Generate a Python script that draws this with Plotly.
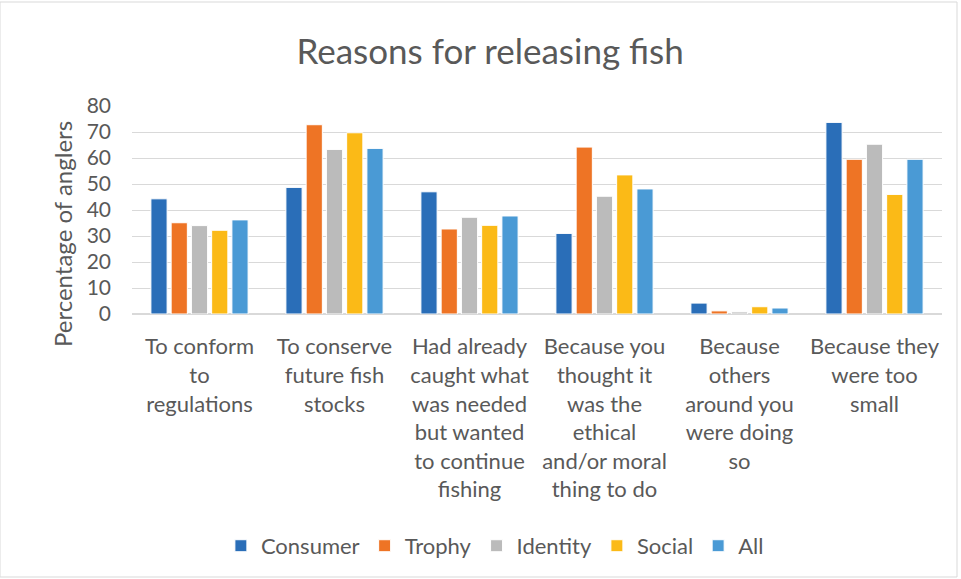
import plotly.graph_objects as go

categories = [
    "To conform<br>to<br>regulations",
    "To conserve<br>future fish<br>stocks",
    "Had already<br>caught what<br>was needed<br>but wanted<br>to continue<br>fishing",
    "Because you<br>thought it<br>was the<br>ethical<br>and/or moral<br>thing to do",
    "Because<br>others<br>around you<br>were doing<br>so",
    "Because they<br>were too<br>small",
]
consumer = [44.3, 48.7, 47.0, 31.0, 4.2, 73.7]
trophy = [35.1, 72.8, 32.7, 64.2, 1.2, 59.5]
identity = [34.0, 63.3, 37.2, 45.3, 0.8, 65.3]
social = [32.2, 69.7, 34.1, 53.5, 2.8, 46.0]
all_ = [36.2, 63.7, 37.7, 48.1, 2.3, 59.5]

series = [
    ("Consumer", consumer, "#2A6EB8"),
    ("Trophy", trophy, "#EE7425"),
    ("Identity", identity, "#BBBBBB"),
    ("Social", social, "#FBBA17"),
    ("All", all_, "#4A9AD5"),
]

FONT = "Lato, 'Open Sans', sans-serif"
GRAY = "#595959"

fig = go.Figure()
for name, vals, col in series:
    fig.add_trace(go.Bar(
        name=name, x=categories, y=vals,
        marker=dict(color=col, line=dict(color="white", width=1)),
    ))

fig.update_layout(
    width=961, height=579,
    paper_bgcolor="white", plot_bgcolor="white",
    margin=dict(l=132, r=19, t=106, b=265),
    barmode="group", bargap=0.25, bargroupgap=0.2,
    font=dict(family=FONT, color=GRAY),
    title=dict(text="Reasons for releasing fish", x=0.51, xanchor="center",
               y=1 - 52 / 579, yref="container", yanchor="middle",
               font=dict(size=35, color=GRAY, family=FONT)),
    legend=dict(orientation="h", x=0.448, xanchor="center", y=-1.115, yanchor="middle",
                font=dict(size=22, color=GRAY), traceorder="normal",
                itemwidth=30),
    annotations=[dict(text="Percentage of anglers", xref="paper", yref="paper",
                      x=-70/810, y=(314 - 234) / 208, xanchor="center", yanchor="middle",
                      textangle=-90, showarrow=False,
                      font=dict(size=24, color=GRAY, family=FONT))],
    shapes=[dict(type="rect", xref="paper", yref="paper",
                 x0=-132/810, x1=1 + 15/810, y0=-263/208, y1=1 + 104/208,
                 line=dict(color="#D9D9D9", width=1))],
)
fig.update_yaxes(range=[0, 80], dtick=10, showgrid=True, gridcolor="#D9D9D9", gridwidth=1,
                 zeroline=True, zerolinecolor="#D9D9D9", ticks="", showline=False,
                 tickfont=dict(size=21, color=GRAY), ticklabelstandoff=20)
fig.update_xaxes(showgrid=False, ticks="", showline=True, linecolor="#D9D9D9",
                 tickfont=dict(size=22, color=GRAY), tickangle=0, ticklabelstandoff=13)

fig.write_html("out.html")
